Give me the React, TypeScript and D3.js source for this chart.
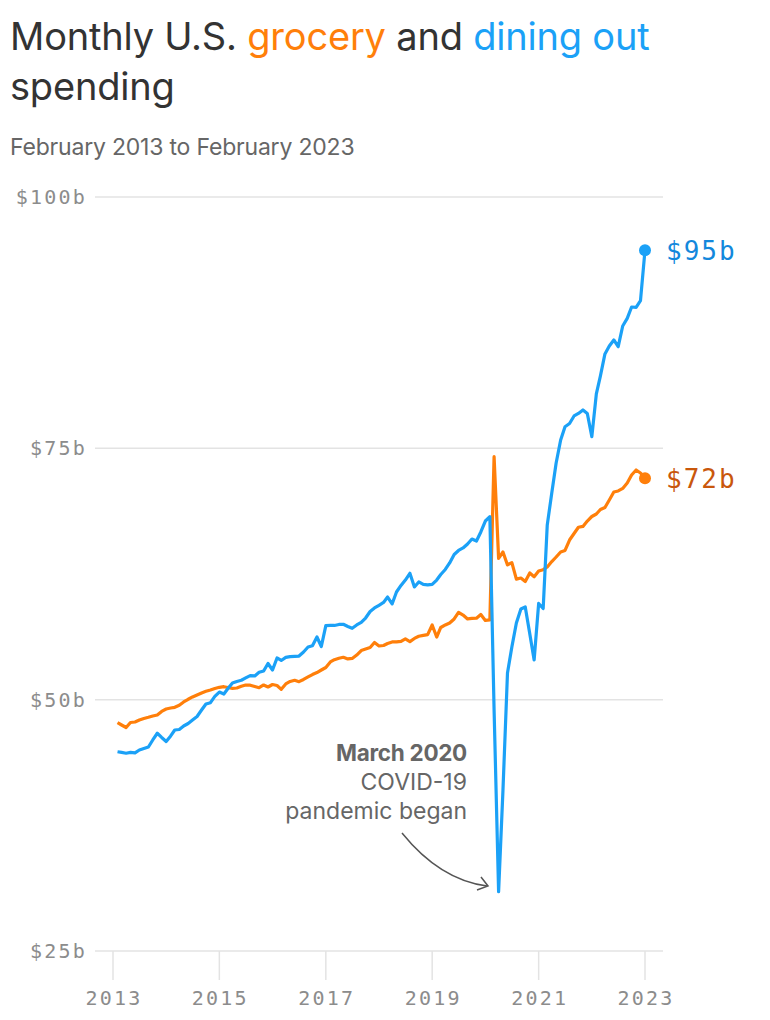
import React from "react";
import * as d3 from "d3";

const grocery: number[] = [
  47.71, 47.48, 47.23, 47.73, 47.78, 47.98, 48.13, 48.25, 48.38, 48.48,
  48.83, 49.07, 49.17, 49.24, 49.44, 49.77, 50.04, 50.27, 50.47, 50.66,
  50.83, 50.96, 51.11, 51.23, 51.29, 51.21, 51.13, 51.16, 51.33, 51.46,
  51.44, 51.31, 51.19, 51.46, 51.26, 51.51, 51.41, 51.03, 51.56, 51.81,
  51.93, 51.79, 52.01, 52.26, 52.5, 52.7, 52.95, 53.2, 53.75, 53.98,
  54.12, 54.22, 54.05, 54.1, 54.44, 54.89, 55.04, 55.19, 55.69, 55.34,
  55.39, 55.59, 55.74, 55.74, 55.79, 56.04, 55.77, 56.09, 56.31, 56.39,
  56.47, 57.43, 56.23, 57.18, 57.43, 57.63, 58.03, 58.69, 58.42, 58.03,
  58.08, 58.1, 58.47, 57.88, 57.93, 74.17, 64.06, 64.69, 63.4, 63.63,
  61.99, 62.1, 61.75, 62.6, 62.23, 62.8, 62.93, 63.2, 63.74, 64.19,
  64.69, 64.84, 65.88, 66.53, 67.15, 67.23, 67.77, 68.22, 68.47, 68.92,
  69.12, 69.86, 70.66, 70.76, 71.01, 71.55, 72.35, 72.85, 72.55, 72.02,
];

const dining: number[] = [
  44.82, 44.75, 44.67, 44.75, 44.7, 44.99, 45.14, 45.29, 45.99, 46.66,
  46.24, 45.84, 46.39, 46.98, 47.03, 47.38, 47.63, 47.98, 48.33, 48.97,
  49.57, 49.7, 50.32, 50.76, 50.56, 51.11, 51.66, 51.81, 51.93, 52.16,
  52.39, 52.36, 52.72, 52.85, 53.6, 52.95, 54.15, 53.9, 54.2, 54.28,
  54.31, 54.34, 54.74, 55.24, 55.36, 56.23, 55.29, 57.36, 57.38, 57.38,
  57.48, 57.5, 57.28, 57.1, 57.43, 57.68, 58.12, 58.77, 59.12, 59.39,
  59.67, 60.21, 59.52, 60.71, 61.36, 61.9, 62.57, 61.21, 61.71, 61.46,
  61.41, 61.46, 61.9, 62.45, 62.95, 63.6, 64.44, 64.84, 65.09, 65.49,
  65.98, 65.78, 66.68, 67.77, 68.2, 49.0, 30.9, 41.0, 52.65, 55.24,
  57.63, 59.02, 59.22, 56.56, 53.95, 59.57, 59.07, 67.38, 70.56, 73.54,
  75.83, 77.15, 77.47, 78.22, 78.47, 78.82, 78.47, 76.16, 80.41, 82.2,
  84.39, 85.18, 85.78, 85.11, 87.17, 87.92, 89.06, 89.03, 89.69, 94.7,
];

const yTicks: number[] = [25, 50, 75, 100];
const xTickYears: number[] = [2013, 2015, 2017, 2019, 2021, 2023];
const startMonth = new Date(2013, 1, 1);
const dates: Date[] = grocery.map((_, i) => d3.timeMonth.offset(startMonth, i));

const BLUE = "#1ba1f7";
const ORANGE = "#ff7f0a";
const SANS = "Inter, 'Noto Sans', sans-serif";
const MONO = "'DejaVu Sans Mono', monospace";

export default function App() {
  const W = 770;
  const H = 1020;
  const x = d3
    .scaleTime()
    .domain([new Date(2013, 0, 1), new Date(2023, 0, 1)])
    .range([113, 645]);
  const y = d3.scaleLinear().domain([25, 100]).range([951, 197]);

  const line = d3
    .line<number>()
    .x((_, i) => x(dates[i]))
    .y((d) => y(d))
    .curve(d3.curveLinear);

  const lastI = grocery.length - 1;
  const gridX0 = 95;
  const gridX1 = 663;

  return (
    <svg
      width={W}
      height={H}
      style={{ position: "absolute", left: 0, top: 0, background: "#fff" }}
    >
      {/* Title */}
      <text x={10} y={50} fontFamily={SANS} fontSize={38} fill="#333" letterSpacing={-0.2}>
        Monthly U.S. <tspan fill={ORANGE}>grocery</tspan> and{" "}
        <tspan fill={BLUE}>dining out</tspan>
      </text>
      <text x={10} y={100} fontFamily={SANS} fontSize={38} fill="#333" letterSpacing={-0.2}>
        spending
      </text>
      <text x={10} y={155} fontFamily={SANS} fontSize={23} fill="#666" letterSpacing={-0.2}>
        February 2013 to February 2023
      </text>

      {/* Grid */}
      {yTicks.map((t) => (
        <g key={t}>
          <line x1={gridX0} x2={gridX1} y1={y(t)} y2={y(t)} stroke="#e3e3e3" strokeWidth={1.5} />
          <text
            x={87}
            y={y(t) + 7}
            textAnchor="end"
            fontFamily={MONO}
            fontSize={20}
            letterSpacing={2.2}
            fill="#8c8c8c"
          >
            ${t}b
          </text>
        </g>
      ))}

      {/* X axis */}
      {xTickYears.map((yr) => {
        const xx = x(new Date(yr, 0, 1));
        return (
          <g key={yr}>
            <line x1={xx} x2={xx} y1={951} y2={980} stroke="#e3e3e3" strokeWidth={1.5} />
            <text
              x={xx + 1}
              y={1005}
              textAnchor="middle"
              fontFamily={MONO}
              fontSize={20}
              letterSpacing={2.2}
              fill="#8c8c8c"
            >
              {yr}
            </text>
          </g>
        );
      })}

      {/* Lines */}
      <path d={line(grocery) || ""} fill="none" stroke={ORANGE} strokeWidth={3.2} strokeLinejoin="round" />
      <path d={line(dining) || ""} fill="none" stroke={BLUE} strokeWidth={3.2} strokeLinejoin="round" />

      {/* End dots & labels */}
      <circle cx={x(dates[lastI])} cy={y(dining[lastI])} r={6} fill={BLUE} />
      <circle cx={x(dates[lastI])} cy={y(grocery[lastI])} r={6} fill={ORANGE} />
      <text x={666} y={y(dining[lastI]) + 10} fontFamily={MONO} fontSize={26} letterSpacing={2} fill="#1388dc">
        $95b
      </text>
      <text x={666} y={y(grocery[lastI]) + 10} fontFamily={MONO} fontSize={26} letterSpacing={2} fill="#c9570c">
        $72b
      </text>

      {/* Annotation */}
      <g fontFamily={SANS} fontSize={23} fill="#666" textAnchor="end">
        <text x={467} y={761} fontSize={22.5} fontWeight={700} letterSpacing={-0.3}>March 2020</text>
        <text x={467} y={790}>COVID-19</text>
        <text x={467} y={819}>pandemic began</text>
      </g>
      <path d="M402,833 Q440,880 487,886" fill="none" stroke="#555" strokeWidth={1.5} />
      <path d="M481,877 L488,886 L477,890" fill="none" stroke="#555" strokeWidth={1.5} />
    </svg>
  );
}
